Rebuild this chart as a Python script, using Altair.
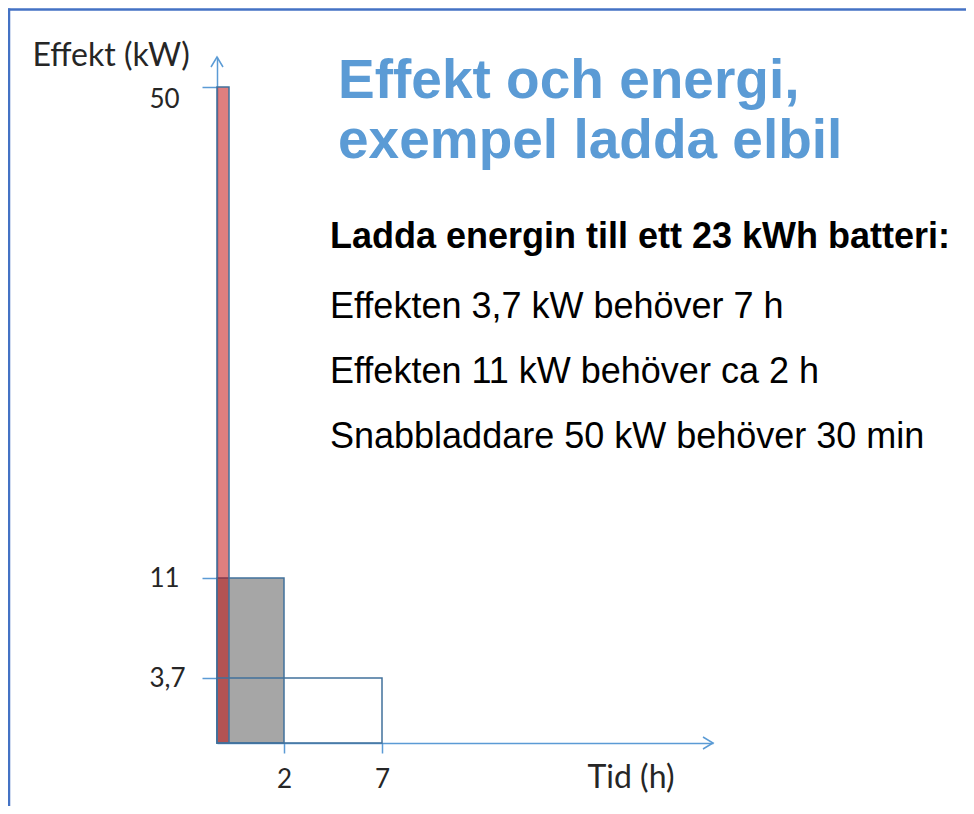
import altair as alt
import pandas as pd

# ---- data ----
power_kw = [3.7, 11, 50]          # charging power (kW)
duration_h = [7, 2, 0.5]          # time needed (h)
series = ["3,7 kW", "11 kW", "50 kW"]

x_tick_values = [2, 7]
x_tick_labels = ["2", "7"]
y_tick_values = [3.7, 11, 50]
y_tick_labels = ["3,7", "11", "50"]

title_lines = ["Effekt och energi,", "exempel ladda elbil"]
heading = "Ladda energin till ett 23 kWh batteri:"
body_lines = [
    "Effekten 3,7 kW behöver 7 h",
    "Effekten 11 kW behöver ca 2 h",
    "Snabbladdare 50 kW behöver 30 min",
]

# schematic (non-linear) axes: piecewise scales
x_end = 10
y_end = 53
x_domain = [0, 0.5, 2, 7, x_end]
x_range = [0, 12, 67, 165, 496]
y_domain = [0, 3.7, 11, 50, y_end]
y_range = [735, 670, 570, 79, 49]

axis_blue = "#5b9bd5"
bar_stroke = "#41719c"
text_col = "#262626"

df = pd.DataFrame({
    "series": series,
    "power": power_kw,
    "hours": duration_h,
    "start": [0] * 3,
    "base": [0] * 3,
})

def mk_expr(vals, labels):
    e = "''"
    for v, l in zip(vals, labels):
        e = f"datum.value == {v} ? '{l}' : ({e})"
    return e

xs = alt.Scale(domain=x_domain, range=x_range, nice=False, zero=False)
ys = alt.Scale(domain=y_domain, range=y_range, nice=False, zero=False)

xax = alt.Axis(
    values=x_tick_values, labelExpr=mk_expr(x_tick_values, x_tick_labels),
    grid=False, domainColor=axis_blue, domainWidth=1.5,
    tickColor=axis_blue, tickWidth=1.5, tickSize=10,
    labelFont="Lato", labelFontSize=26, labelColor=text_col,
    labelPadding=34, labelBaseline="alphabetic", labelFlush=False,
    title="Tid (h)", titleX=370, titleY=44, titleAlign="left",
    titleBaseline="alphabetic", titleFont="Lato", titleFontSize=32,
    titleFontWeight="normal", titleColor=text_col,
)
yax = alt.Axis(
    values=y_tick_values, labelExpr=mk_expr(y_tick_values, y_tick_labels),
    grid=False, domainColor=axis_blue, domainWidth=1.5,
    tickColor=axis_blue, tickWidth=1.5, tickSize=15,
    labelFont="Lato", labelFontSize=26, labelColor=text_col,
    labelAlign="left", labelPadding=53, labelBaseline="middle",
    labelOffset={"condition": {"test": "datum.value == 50", "value": 12}, "value": 0},
    labelFlush=False,
    title="Effekt (kW)", titleX=-185, titleY=57, titleAngle=0,
    titleAlign="left", titleBaseline="alphabetic", titleFont="Lato",
    titleFontSize=32, titleFontWeight="normal", titleColor=text_col,
)

base = alt.Chart(df)

def rect_layer(name, **mk):
    return base.transform_filter(alt.datum.series == name).mark_rect(
        stroke=bar_stroke, strokeWidth=1.5, **mk
    ).encode(
        x=alt.X("start:Q", scale=xs, axis=xax),
        x2="hours:Q",
        y=alt.Y("base:Q", scale=ys, axis=yax),
        y2="power:Q",
    )

gray = rect_layer("11 kW", fill="#a6a6a6")
red = rect_layer("50 kW", fill="#c00000", fillOpacity=0.5)
outline = rect_layer("3,7 kW", fill="white", fillOpacity=0)

x_arrow = alt.Chart(pd.DataFrame({"t": [x_end], "p": [0]})).mark_point(
    shape="M-1,-0.6L0,0L-1,0.6", filled=False, size=400,
    stroke=axis_blue, strokeWidth=1.5, opacity=1,
).encode(x=alt.X("t:Q", scale=xs, axis=xax), y=alt.Y("p:Q", scale=ys, axis=yax))

y_arrow = alt.Chart(pd.DataFrame({"t": [0], "p": [y_end]})).mark_point(
    shape="M-0.6,1L0,0L0.6,1", filled=False, size=400,
    stroke=axis_blue, strokeWidth=1.5, opacity=1,
).encode(x=alt.X("t:Q", scale=xs, axis=xax), y=alt.Y("p:Q", scale=ys, axis=yax))

one = pd.DataFrame({"a": [0]})

title_txt = alt.Chart(one).mark_text(
    align="left", baseline="alphabetic", font="Liberation Sans",
    fontSize=55, fontWeight="bold", color=axis_blue, lineHeight=60,
).encode(x=alt.value(121), y=alt.value(90), text=alt.value(title_lines))

head_txt = alt.Chart(one).mark_text(
    align="left", baseline="alphabetic", font="Liberation Sans",
    fontSize=36, fontWeight="bold", color="#000000",
).encode(x=alt.value(113), y=alt.value(240), text=alt.value(heading))

body_txt = alt.Chart(one).mark_text(
    align="left", baseline="alphabetic", font="Liberation Sans",
    fontSize=36, color="#000000", lineHeight=65,
).encode(x=alt.value(113), y=alt.value(310), text=alt.value(body_lines))

border_top = alt.Chart(one).mark_rule(color="#4472c4", strokeWidth=2.5).encode(
    x=alt.value(-209), x2=alt.value(749), y=alt.value(1.5)
)
border_left = alt.Chart(one).mark_rule(color="#4472c4", strokeWidth=2.5).encode(
    x=alt.value(-208), y=alt.value(0.5), y2=alt.value(798)
)

chart = alt.layer(
    gray, red, outline, x_arrow, y_arrow,
    title_txt, head_txt, body_txt, border_top, border_left,
).properties(
    width=749, height=735,
    padding={"left": 209, "top": 0, "right": 0, "bottom": 63},
    autosize=alt.AutoSizeParams(type="none"),
    background="white",
).configure_view(strokeWidth=0)

chart.save("out.html", embed_options={"renderer": "svg", "actions": False})
